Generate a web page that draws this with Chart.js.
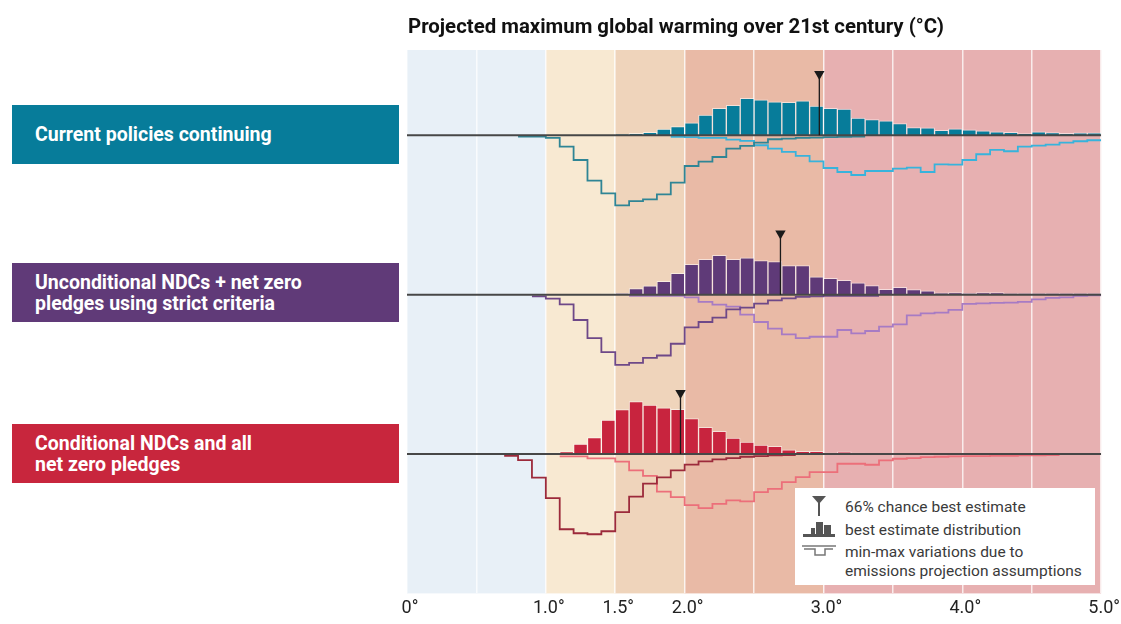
<!DOCTYPE html>
<html>
<head>
<meta charset="utf-8">
<script src="https://cdn.jsdelivr.net/npm/chart.js@4.4.1/dist/chart.umd.min.js"></script>
<style>
  body { margin: 0; background: #fff; font-family: Roboto, "Noto Sans", sans-serif; }
  #wrap { position: relative; width: 1121px; height: 624px; overflow: hidden; }
  #chart { position: absolute; left: 0; top: 0; }
  .title { position: absolute; left: 408px; top: 14px; font-weight: bold; font-size: 20.4px; color: #111; white-space: nowrap; }
  .label { position: absolute; left: 12px; width: 387px; height: 59px; box-sizing: border-box; padding-left: 23px;
           display: flex; align-items: center; color: #fff; font-weight: bold; font-size: 19.5px; line-height: 21px; }
  .legend { position: absolute; left: 795px; top: 488px; width: 300px; height: 97px; background: #fff;
            font-size: 15.5px; color: #3a3a3a; }
  .legend div { position: absolute; left: 50px; white-space: nowrap; line-height: 19px; }
  .legend svg { position: absolute; left: 6px; }
</style>
</head>
<body>
<div id="wrap">
  <canvas id="chart" width="1121" height="624"></canvas>
  <div class="title">Projected maximum global warming over 21st century (°C)</div>
  <div class="label" style="top:105px;background:#077c9a;">Current policies continuing</div>
  <div class="label" style="top:263px;background:#603a78;">Unconditional NDCs + net zero<br>pledges using strict criteria</div>
  <div class="label" style="top:424px;background:#c8263d;">Conditional NDCs and all<br>net zero pledges</div>
  <div class="legend">
    <svg style="top:6px" width="36" height="24"><polygon points="11,2 25,2 18,10" fill="#555"/><line x1="18" y1="8" x2="18" y2="22" stroke="#555" stroke-width="2"/></svg>
    <div style="top:10px">66% chance best estimate</div>
    <svg style="top:32px" width="36" height="20"><rect x="2" y="14" width="32" height="3" fill="#555"/><rect x="10" y="8" width="4" height="7" fill="#555"/><rect x="15" y="2" width="7" height="13" fill="#555"/><rect x="23" y="5" width="7" height="10" fill="#555"/></svg>
    <div style="top:33px">best estimate distribution</div>
    <svg style="top:55px" width="36" height="22"><polyline points="1,3 35,3" stroke="#777" stroke-width="1.5" fill="none"/><polyline points="3,6 14,6 14,12 24,12 24,6 32,6" stroke="#777" stroke-width="1.5" fill="none"/></svg>
    <div style="top:55px">min-max variations due to</div>
    <div style="top:74px">emissions projection assumptions</div>
  </div>
</div>
<script>
// bin edges, degrees C (0.1 degree bins)
const bins = [0.0, 0.1, 0.2, 0.3, 0.4, 0.5, 0.6, 0.7, 0.8, 0.9, 1.0, 1.1, 1.2, 1.3, 1.4, 1.5, 1.6, 1.7, 1.8, 1.9,
  2.0, 2.1, 2.2, 2.3, 2.4, 2.5, 2.6, 2.7, 2.8, 2.9, 3.0, 3.1, 3.2, 3.3, 3.4, 3.5, 3.6, 3.7, 3.8, 3.9,
  4.0, 4.1, 4.2, 4.3, 4.4, 4.5, 4.6, 4.7, 4.8, 4.9, 5.0];
const tickValues = [0, 0.5, 1.0, 1.5, 2.0, 2.5, 3.0, 3.5, 4.0, 4.5, 5.0];
const tickLabels = ["0°", "", "1.0°", "1.5°", "2.0°", "", "3.0°", "", "4.0°", "", "5.0°"];
const bandEdges = [0, 1.0, 1.5, 2.0, 3.0, 5.0];
const N = null;

// Current policies continuing
const currentBars = [N, N, N, N, N, N, N, N, N, N, N, N, N, N, N, 1, 2, 3, 6, 8.7,
  12.3, 20, 26.7, 29.7, 36.7, 35.3, 33.3, 32.7, 34.3, 29, 26.7, 26, 17, 15.7, 14.3, 11.7, 7.7, 7.3, 5, 6.3,
  5.3, 4.3, 3.3, 3, 1.7, 3.3, 2.7, 2, 2.3, 2.3];
const currentLow = [N, N, N, N, N, N, N, N, 1.3, 1.3, 2.7, 11.3, 24.7, 45.3, 58, 70, 65.7, 64, 59, 47.3,
  30.7, 26.3, 21.7, 13.3, 10.7, 7.3, 4, 3.3, 2.7, 2.3, 2, 1.7, 1.3, N, N, N, N, N, N, N,
  N, N, N, N, N, N, N, N, N, N];
const currentHigh = [N, N, N, N, N, N, N, N, N, N, N, N, N, N, N, N, N, N, N, 1.7,
  2, 2.7, 2.7, 4.3, 5.7, 10, 13.3, 16.7, 20.7, 26, 32.7, 36.7, 39.7, 35.7, 35.7, 33.3, 32.3, 36.7, 29, 29.3,
  24.7, 19, 14.7, 16, 11.3, 10.3, 9.3, 7.3, 6, 5];

// Unconditional NDCs + net zero pledges using strict criteria
const strictBars = [N, N, N, N, N, N, N, N, N, N, N, N, N, N, 0.7, 1.3, 6, 8.7, 13.3, 21.3,
  30.3, 35.3, 39.3, 35.3, 36.7, 34, 33, 29, 29, 17.7, 16.3, 14.3, 11.7, 9, 5.3, 7.3, 5, 3.7, 1.7, 2,
  1.3, 2, 2, 1, 1, 1, 1, 1, 1, 1];
const strictLow = [N, N, N, N, N, N, N, N, N, 1.7, 4, 9.7, 25.3, 43.3, 57.3, 70, 68, 63, 60.7, 49,
  32.7, 27.3, 23, 14.7, 13, 9, 5.7, 3.7, 2.3, 1.7, 1.3, 1.3, 1.3, 1.3, N, N, N, N, N, N,
  N, N, N, N, N, N, N, N, N, N];
const strictHigh = [N, N, N, N, N, N, N, N, N, N, N, N, N, N, N, N, 1.3, 1.3, 1.3, 1.3,
  2.7, 7.3, 10, 12, 20, 27.3, 34, 39.7, 43.3, 42, 42, 35.3, 38.7, 36.3, 32, 29.7, 20.7, 18.7, 18, 15.3,
  9.3, 8.7, 8.3, 8, 7.3, 4.7, 3.3, 2.7, 1.3, 0.7];

// Conditional NDCs and all net zero pledges
const condBars = [N, N, N, N, N, N, N, N, N, N, 1.3, 2.5, 10, 16.3, 33.8, 44.3, 52.3, 48.8, 46, 44.7,
  35.3, 26.7, 22.7, 16, 12, 9, 7.7, 4.3, 2.7, 2.7, 1, 2.3, 1, 0.7, 0.5, N, N, N, N, N,
  N, N, N, N, N, N, N, N, N, N];
const condLow = [N, N, N, N, N, N, N, 1.7, 6, 23.5, 44, 75, 79, 80, 77, 58, 42.5, 29.5, 23.3, 16.3,
  10.5, 7.3, 5.3, 4, 2.7, 2, 1.3, 1, N, N, N, N, N, N, N, N, N, N, N, N,
  N, N, N, N, N, N, N, N, N, N];
const condHigh = [N, N, N, N, N, N, N, N, N, N, N, 2.3, 2.3, 4.3, 4.3, 7.5, 16.3, 21.7, 37.5, 43,
  51, 54, 49.7, 46.3, 47.3, 38, 34.7, 28, 23, 18, 18, 9.7, 9.7, 10.7, 6.3, 4.7, 4, 3, 2.7, 2.3,
  2, 2, 1.7, 1.7, 1.3, 1.3, 1, N, N, N];

// 66% chance best estimate
const bestEstimate = [2.97, 2.69, 1.97];

const panels = [
  { id: "y1", bars: currentBars, low: currentLow, high: currentHigh, est: bestEstimate[0],
    bar: "#077c9a", dark: "#2f8595", light: "#37b3dc", min: -79, max: 85, h: 164, weight: 3 },
  { id: "y2", bars: strictBars, low: strictLow, high: strictHigh, est: bestEstimate[1],
    bar: "#5f3a78", dark: "#6e4888", light: "#a77bc4", min: -79, max: 80, h: 159, weight: 2 },
  { id: "y3", bars: condBars, low: condLow, high: condHigh, est: bestEstimate[2],
    bar: "#c8243e", dark: "#9c2a3b", light: "#ec6f7a", min: -139, max: 80, h: 219, weight: 1 },
];
const bandColors = ["#e8f0f7", "#f8e9d2", "#efd4bb", "#e9baa6", "#e7b0b1"];

function stepPoints(values) {
  const pts = [];
  for (let i = 0; i < bins.length; i++) {
    let v = i < values.length ? values[i] : null;
    if (v == null && i > 0) v = values[i - 1];
    pts.push({ x: bins[i], y: v == null ? null : -v });
  }
  return pts;
}

const datasets = [];
const scales = {
  x: {
    type: "linear", min: 0, max: 5, offset: false,
    afterBuildTicks: (axis) => { axis.ticks = tickValues.map(v => ({ value: v })); },
    ticks: {
      autoSkip: false, maxRotation: 0, padding: 4, labelOffset: 3, color: "#222",
      font: { family: "Roboto", size: 18 },
      callback: (val, i) => tickLabels[i],
    },
    grid: { color: "rgba(255,255,255,0.75)", lineWidth: 1.5, drawTicks: false, offset: false },
    border: { display: false },
  },
};

panels.forEach(p => {
  scales[p.id] = {
    type: "linear", display: false, position: "left", stack: "panels",
    stackWeight: p.h, weight: p.weight, min: p.min, max: p.max,
  };
  datasets.push({
    type: "bar", yAxisID: p.id, grouped: false, order: 3,
    data: p.bars.map((v, i) => ({ x: bins[i] + 0.05, y: v })),
    backgroundColor: p.bar, borderColor: "rgba(255,255,255,0.55)", borderWidth: 1,
    barPercentage: 1, categoryPercentage: 1,
  });
  [[p.low, p.dark], [p.high, p.light]].forEach(([vals, col]) => {
    datasets.push({
      type: "line", yAxisID: p.id, order: 2, data: stepPoints(vals),
      stepped: true, spanGaps: false, borderColor: col, borderWidth: 1.8,
      pointRadius: 0, fill: false,
    });
  });
  datasets.push({
    type: "line", yAxisID: p.id, order: 1,
    data: [{ x: 0, y: 0 }, { x: 5, y: 0 }],
    borderColor: "#474747", borderWidth: 2, pointRadius: 0,
  });
  datasets.push({
    type: "line", yAxisID: p.id, order: 0,
    data: [{ x: p.est, y: 0 }, { x: p.est, y: 61 }],
    borderColor: "#1a1a1a", borderWidth: 1.3, backgroundColor: "#1a1a1a",
    pointRadius: [0, 6], pointStyle: "triangle", pointRotation: 180, pointBorderWidth: 0,
  });
});

const bandsPlugin = {
  id: "bands",
  beforeDraw(chart) {
    const { ctx, chartArea, scales } = chart;
    for (let i = 0; i < bandColors.length; i++) {
      const x0 = scales.x.getPixelForValue(bandEdges[i]);
      const x1 = scales.x.getPixelForValue(bandEdges[i + 1]);
      ctx.fillStyle = bandColors[i];
      ctx.fillRect(x0, chartArea.top, x1 - x0, chartArea.bottom - chartArea.top);
    }
  },
};

new Chart(document.getElementById("chart"), {
  data: { datasets },
  options: {
    responsive: false, animation: false,
    layout: { padding: { left: 407, right: 18, top: 50, bottom: 1 } },
    scales,
    plugins: { legend: { display: false }, tooltip: { enabled: false } },
    events: [],
  },
  plugins: [bandsPlugin],
});
</script>
</body>
</html>
